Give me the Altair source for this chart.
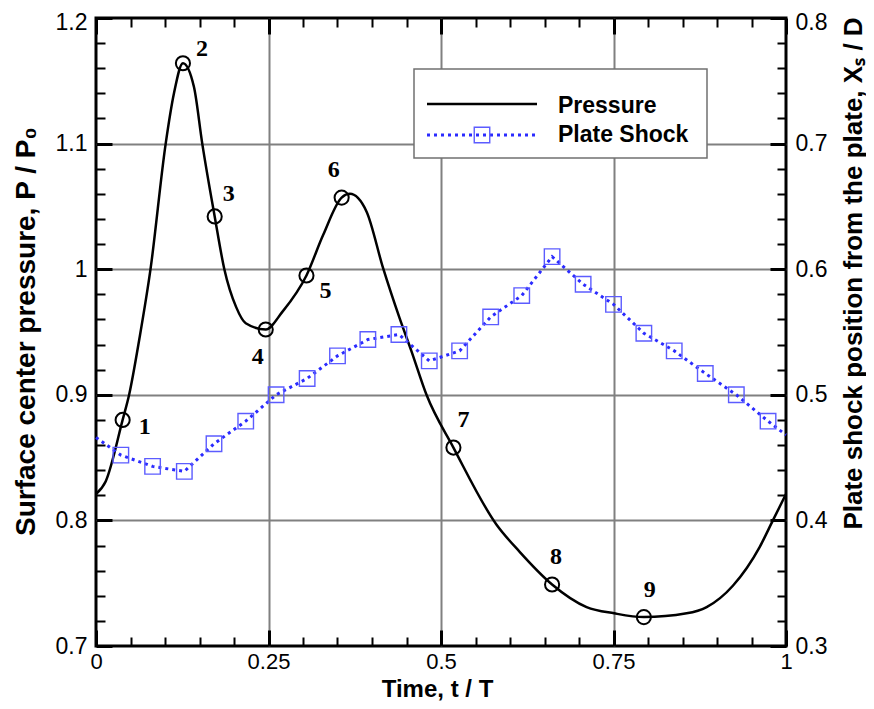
import altair as alt
import numpy as np
import pandas as pd

# ---------------- data ----------------
# Surface centre pressure curve (left axis)
p_time = [0.000, 0.014, 0.0386, 0.048, 0.063, 0.079, 0.101, 0.113, 0.126, 0.142,
          0.154, 0.172, 0.186, 0.203, 0.217, 0.246, 0.270, 0.305, 0.329, 0.356,
          0.368, 0.392, 0.416, 0.440, 0.457, 0.479, 0.518, 0.580, 0.614, 0.661,
          0.711, 0.751, 0.794, 0.856, 0.885, 0.923, 0.962, 0.981, 1.000]
p_value = [0.821, 0.831, 0.880, 0.900, 0.945, 1.000, 1.100, 1.140, 1.164, 1.145,
           1.100, 1.042, 1.000, 0.970, 0.957, 0.952, 0.966, 0.995, 1.027, 1.057,
           1.060, 1.046, 1.001, 0.961, 0.935, 0.900, 0.858, 0.797, 0.775, 0.749,
           0.731, 0.726, 0.723, 0.726, 0.731, 0.748, 0.779, 0.800, 0.821]

# Numbered circle markers on the pressure curve
m_time = [0.0386, 0.126, 0.172, 0.246, 0.305, 0.356, 0.518, 0.661, 0.794]
m_value = [0.880, 1.164, 1.042, 0.952, 0.995, 1.057, 0.858, 0.749, 0.723]
m_label = ["1", "2", "3", "4", "5", "6", "7", "8", "9"]

# Plate shock position (right axis)
s_time = [0.000, 0.036, 0.082, 0.128, 0.171, 0.217, 0.261, 0.306, 0.350, 0.394,
          0.439, 0.483, 0.527, 0.572, 0.617, 0.661, 0.706, 0.750, 0.794, 0.838,
          0.883, 0.928, 0.974, 1.000]
s_value = [0.466, 0.452, 0.443, 0.439, 0.461, 0.479, 0.500, 0.513, 0.531, 0.544,
           0.548, 0.527, 0.535, 0.562, 0.579, 0.610, 0.588, 0.572, 0.549, 0.535,
           0.517, 0.500, 0.479, 0.468]
s_marker = [False] + [True] * 22 + [False]

legend_names = ["Pressure", "Plate Shock"]

# axis ticks
x_major = [0, 0.25, 0.5, 0.75, 1]
x_all = np.round(np.arange(0, 1.0001, 0.05), 2).tolist()
yl_major = [0.7, 0.8, 0.9, 1.0, 1.1, 1.2]
yr_major = [0.3, 0.4, 0.5, 0.6, 0.7, 0.8]
y_all = np.round(np.arange(0.7, 1.2001, 0.02), 2).tolist()

# ---------------- styling ----------------
W, H = 690, 628
SANS = "Liberation Sans"
SERIF = "Liberation Serif"
GRID = "#808080"
BLUE_LINE = "#2b2bff"
BLUE_SQ = "#5c5cff"
LABEL_FS = 23

pressure_df = pd.DataFrame({"t": p_time, "p": p_value})
marker_df = pd.DataFrame({"t": m_time, "p": m_value, "label": m_label})
shock_df = pd.DataFrame({"t": s_time, "xs": s_value, "marker": s_marker})
legend_df = pd.DataFrame({"series": legend_names})

x_scale = alt.Scale(domain=[0, 1], nice=False, zero=False)
yl_scale = alt.Scale(domain=[0.7, 1.2], nice=False, zero=False)
yr_scale = alt.Scale(domain=[0.3, 0.8], nice=False, zero=False)

fmt = "format(datum.value, '~g')"

x_axis = alt.Axis(
    orient="bottom", values=x_major, labelExpr=fmt, labelFont=SANS, labelFontSize=22,
    labelColor="black", labelPadding=5, labelFlush=False, labelOverlap=False,
    ticks=False, tickSize=0, domain=False,
    grid=True, gridColor=GRID, gridWidth=2,
    gridOpacity={"condition": {"test": "datum.value <= 0.001 || datum.value >= 0.999", "value": 0}, "value": 1},
    title="Time, t / T", titleFont=SANS, titleFontSize=24, titleFontWeight="bold",
    titleColor="black", titleBaseline="alphabetic", titleX=341, titleY=50,
)
yl_axis = alt.Axis(
    orient="left", values=yl_major, labelExpr=fmt, labelFont=SANS, labelFontSize=LABEL_FS,
    labelColor="black", labelPadding=9, labelFlush=False, labelOverlap=False,
    labelOffset={"condition": {"test": "datum.value >= 1.1999", "value": 4}, "value": 0},
    ticks=False, tickSize=0, domain=False,
    grid=True, gridColor=GRID, gridWidth=2,
    gridOpacity={"condition": {"test": "datum.value <= 0.7001 || datum.value >= 1.1999", "value": 0}, "value": 1},
    title="Surface center pressure, P / P\u2080", titleFont=SANS, titleFontSize=28,
    titleFontWeight="bold", titleColor="black", titleAngle=270, titleBaseline="alphabetic",
    titleX=-62, titleY=313,
)
yr_axis = alt.Axis(
    orient="right", values=yr_major, labelExpr=fmt, labelFont=SANS, labelFontSize=LABEL_FS,
    labelColor="black", labelPadding=9, labelFlush=False, labelOverlap=False,
    labelOffset={"condition": {"test": "datum.value >= 0.7999", "value": 4}, "value": 0},
    ticks=False, tickSize=0, domain=False, grid=False,
    title="Plate shock position from the plate, X\u209b / D", titleFont=SANS, titleFontSize=26,
    titleFontWeight="bold", titleColor="black", titleAngle=270, titleBaseline="alphabetic",
    titleX=75, titleY=255,
)

# inward tick marks drawn as dashed grid lines (segments only at both edges)
x_tick_axis = alt.Axis(
    orient="bottom", values=x_all, labels=False, ticks=False, tickSize=0, domain=False,
    grid=True, gridColor="black",
    gridDash={"condition": {"test": "indexof([0,0.25,0.5,0.75,1], datum.value) >= 0",
                            "value": [16, H - 32, 16, 3000]},
              "value": [9, H - 18, 9, 3000]},
    gridWidth={"condition": {"test": "indexof([0,0.25,0.5,0.75,1], datum.value) >= 0",
                             "value": 3}, "value": 2},
    title=None,
)
y_tick_axis = alt.Axis(
    orient="left", values=y_all, labels=False, ticks=False, tickSize=0, domain=False,
    grid=True, gridColor="black",
    gridDash={"condition": {"test": "indexof([0.7,0.8,0.9,1,1.1,1.2], datum.value) >= 0",
                            "value": [16, W - 32, 16, 3000]},
              "value": [9, W - 18, 9, 3000]},
    gridWidth={"condition": {"test": "indexof([0.7,0.8,0.9,1,1.1,1.2], datum.value) >= 0",
                             "value": 3}, "value": 2},
    title=None,
)

# ---------------- pressure ----------------
p_line = alt.Chart(pressure_df).mark_line(
    color="black", strokeWidth=2.5, interpolate="monotone"
).encode(
    x=alt.X("t:Q", scale=x_scale, axis=x_axis),
    y=alt.Y("p:Q", scale=yl_scale, axis=yl_axis),
)
p_circles = alt.Chart(marker_df).mark_point(
    shape="circle", size=200, filled=False, color="black", strokeWidth=2, opacity=1
).encode(
    x=alt.X("t:Q", scale=x_scale, axis=None),
    y=alt.Y("p:Q", scale=yl_scale, axis=None),
)
label_offsets = {
    "1": (22, 7), "2": (19, -14), "3": (14, -22), "4": (-8, 28), "5": (19, 16),
    "6": (-8, -28), "7": (10, -28), "8": (4, -27), "9": (6, -27),
}
p_labels = []
for lab in m_label:
    dx, dy = label_offsets[lab]
    p_labels.append(
        alt.Chart(marker_df).transform_filter(f"datum.label == '{lab}'").mark_text(
            font=SERIF, fontWeight="bold", fontSize=24, color="black",
            align="center", baseline="middle", dx=dx, dy=dy,
        ).encode(
            x=alt.X("t:Q", scale=x_scale, axis=None),
            y=alt.Y("p:Q", scale=yl_scale, axis=None),
            text="label:N",
        )
    )

# ---------------- plate shock ----------------
s_line = alt.Chart(shock_df).mark_line(
    color=BLUE_LINE, strokeWidth=3, strokeDash=[3, 4]
).encode(
    x=alt.X("t:Q", scale=x_scale, axis=None),
    y=alt.Y("xs:Q", scale=yr_scale, axis=yr_axis),
)
s_squares = alt.Chart(shock_df).transform_filter("datum.marker").mark_point(
    shape="square", size=240, filled=False, color=BLUE_SQ, strokeWidth=1.4, opacity=1
).encode(
    x=alt.X("t:Q", scale=x_scale, axis=None),
    y=alt.Y("xs:Q", scale=yr_scale, axis=None),
)

# ---------------- tick layer ----------------
tick_layer = alt.Chart(pressure_df).mark_point(opacity=0).encode(
    x=alt.X("t:Q", scale=x_scale, axis=x_tick_axis),
    y=alt.Y("p:Q", scale=yl_scale, axis=y_tick_axis),
)

# ---------------- legend ----------------
leg_box = alt.Chart(legend_df).transform_filter("datum.series == 'Pressure'").mark_rect(
    fill="white", stroke="#707070", strokeWidth=1.5
).encode(x=alt.value(318), x2=alt.value(611), y=alt.value(51), y2=alt.value(140))
leg_line1 = alt.Chart(legend_df).transform_filter("datum.series == 'Pressure'").mark_rule(
    color="black", strokeWidth=2.5
).encode(x=alt.value(331), x2=alt.value(441), y=alt.value(86))
leg_line2 = alt.Chart(legend_df).transform_filter("datum.series == 'Plate Shock'").mark_rule(
    color=BLUE_LINE, strokeWidth=3, strokeDash=[3, 4]
).encode(x=alt.value(331), x2=alt.value(441), y=alt.value(117))
leg_sq = alt.Chart(legend_df).transform_filter("datum.series == 'Plate Shock'").mark_point(
    shape="square", size=240, filled=False, color=BLUE_SQ, strokeWidth=1.4, opacity=1
).encode(x=alt.value(386), y=alt.value(117))
leg_t1 = alt.Chart(legend_df).transform_filter("datum.series == 'Pressure'").mark_text(
    font=SANS, fontSize=23, fontWeight="bold", color="black", align="left", baseline="middle"
).encode(x=alt.value(462), y=alt.value(88), text="series:N")
leg_t2 = alt.Chart(legend_df).transform_filter("datum.series == 'Plate Shock'").mark_text(
    font=SANS, fontSize=23, fontWeight="bold", color="black", align="left", baseline="middle"
).encode(x=alt.value(462), y=alt.value(117), text="series:N")

chart = alt.layer(
    p_line, p_circles, *p_labels, s_line, s_squares, tick_layer,
    leg_box, leg_line1, leg_line2, leg_sq, leg_t1, leg_t2,
).resolve_scale(
    x="independent", y="independent"
).properties(
    width=W, height=H,
    autosize=alt.AutoSizeParams(type="none"),
    padding={"left": 88, "top": 10, "right": 80, "bottom": 55},
).configure_view(
    stroke="black", strokeWidth=3
)

chart.save("out.html", embed_options={"renderer": "svg", "actions": False})
